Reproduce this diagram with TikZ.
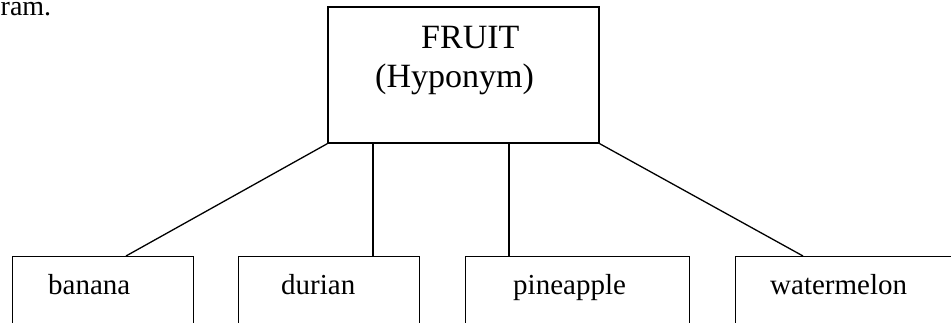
\documentclass[tikz,border=0pt]{standalone}
\usepackage{fontspec}
\setmainfont{Liberation Serif}
\begin{document}
\begin{tikzpicture}[x=1pt,y=-1pt,
  boxstyle/.style={draw=black,line width=1.3pt,inner sep=0pt},
  conn/.style={draw=black,line width=1.3pt},
  toptext/.style={font=\fontsize{34}{40}\selectfont,inner sep=0pt,anchor=base west},
  leaftext/.style={font=\fontsize{29}{34}\selectfont,inner sep=0pt,anchor=base west}]
\useasboundingbox (0,0) rectangle (951,322);
\clip (0,0) rectangle (951,322);
\node[font=\fontsize{28}{33}\selectfont,inner sep=0pt,anchor=base west] (frag) at (0.5,15) {ram.};
% top box
\node[boxstyle,minimum width=271pt,minimum height=136pt] (fruit) at (463.5,75) {};
\node[toptext] (fruitlbl) at (421,48) {FRUIT};
\node[toptext] (hyplbl) at (375,87) {(Hyponym)};
% leaf boxes
\node[boxstyle,minimum width=181pt,minimum height=100pt,anchor=north west] (banana) at (12,256) {};
\node[boxstyle,minimum width=181pt,minimum height=100pt,anchor=north west] (durian) at (238,256) {};
\node[boxstyle,minimum width=224pt,minimum height=100pt,anchor=north west] (pineapple) at (465,256) {};
\node[boxstyle,minimum width=240pt,minimum height=100pt,anchor=north west] (watermelon) at (735,256) {};
\node[leaftext] (bananalbl) at (48,294) {banana};
\node[leaftext] (durianlbl) at (281,294) {durian};
\node[leaftext] (pineapplelbl) at (513,294) {pineapple};
\node[leaftext] (watermelonlbl) at (770,294) {watermelon};
% connectors
\coordinate (a1) at (373,143);
\coordinate (a2) at (509,143);
\coordinate (b1) at (126,256);
\coordinate (b2) at (373,256);
\coordinate (b3) at (509,256);
\coordinate (b4) at (803,256);
\draw[conn] (fruit.south west) -- (b1);
\draw[conn] (a1) -- (b2);
\draw[conn] (a2) -- (b3);
\draw[conn] (fruit.south east) -- (b4);
\end{tikzpicture}
\end{document}
